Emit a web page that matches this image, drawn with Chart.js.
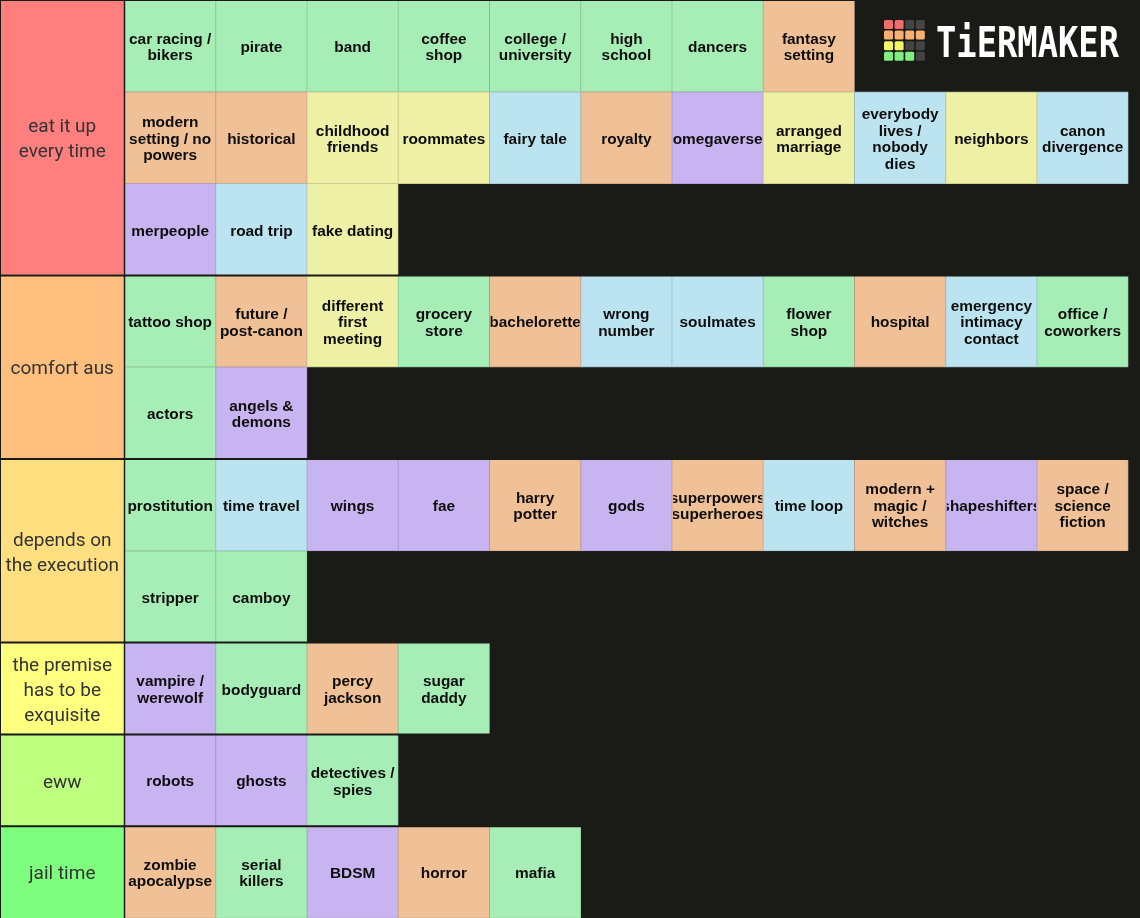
<!DOCTYPE html>
<html>
<head>
<meta charset="utf-8">
<script src="https://cdn.jsdelivr.net/npm/chart.js@4.4.1/dist/chart.umd.min.js"></script>
<style>
html,body{margin:0;padding:0;background:#1a1a17;overflow:hidden}
#wrap{width:1140px;height:918px;position:relative}
</style>
</head>
<body>
<div id="wrap"><canvas id="c"></canvas></div>
<script>
// ---- data ----
const tierNames = ["eat it up\nevery time", "comfort aus", "depends on\nthe execution", "the premise\nhas to be\nexquisite", "eww", "jail time"];
const tierColors = ["#ff7f7f", "#ffbf7f", "#ffdf7f", "#ffff7f", "#bfff7f", "#7fff7f"];

const tier1Items = ["car racing /\nbikers", "pirate", "band", "coffee\nshop", "college /\nuniversity", "high\nschool", "dancers", "fantasy\nsetting",
  "modern\nsetting / no\npowers", "historical", "childhood\nfriends", "roommates", "fairy tale", "royalty", "omegaverse", "arranged\nmarriage", "everybody\nlives /\nnobody\ndies", "neighbors", "canon\ndivergence",
  "merpeople", "road trip", "fake dating"];
const tier1Kinds = ["g","g","g","g","g","g","g","o",
  "o","o","y","y","b","o","p","y","b","y","b",
  "p","b","y"];

const tier2Items = ["tattoo shop", "future /\npost-canon", "different\nfirst\nmeeting", "grocery\nstore", "bachelorette", "wrong\nnumber", "soulmates", "flower\nshop", "hospital", "emergency\nintimacy\ncontact", "office /\ncoworkers",
  "actors", "angels &\ndemons"];
const tier2Kinds = ["g","o","y","g","o","b","b","g","o","b","g",
  "g","p"];

const tier3Items = ["prostitution", "time travel", "wings", "fae", "harry\npotter", "gods", "superpowers\nsuperheroes", "time loop", "modern +\nmagic /\nwitches", "shapeshifters", "space /\nscience\nfiction",
  "stripper", "camboy"];
const tier3Kinds = ["g","b","p","p","o","p","o","b","o","p","o",
  "g","g"];

const tier4Items = ["vampire /\nwerewolf", "bodyguard", "percy\njackson", "sugar\ndaddy"];
const tier4Kinds = ["p","g","o","g"];

const tier5Items = ["robots", "ghosts", "detectives /\nspies"];
const tier5Kinds = ["p","p","g"];

const tier6Items = ["zombie\napocalypse", "serial\nkillers", "BDSM", "horror", "mafia"];
const tier6Kinds = ["o","g","p","o","g"];

const kindFill = { g: "#a6eeb5", o: "#f0c097", y: "#eef0a5", b: "#bce4f0", p: "#c8b4f0" };
const kindEdge = { g: "#8cc499", o: "#c7a080", y: "#c6c78a", b: "#9dbfc9", p: "#a696c8" };

// ---- layout constants ----
const ROW_CAP = 11;          // cells per row
const FIRST_ROW_CAP = 8;     // first row leaves room for the logo
const CELL_PX = 91.25;
const LABEL_W = 124.5 / CELL_PX;                 // label column width in cell units
const X_MAX = (1140 - 124.5) / CELL_PX;

const tierItems = [tier1Items, tier2Items, tier3Items, tier4Items, tier5Items, tier6Items];
const tierKinds = [tier1Kinds, tier2Kinds, tier3Kinds, tier4Kinds, tier5Kinds, tier6Kinds];

// ---- build datasets ----
const rowKeys = [];
const tierRange = [];
const labelData = [], labelColors = [];
const cellData = [], cellColors = [], cellEdges = [], cellText = [];

tierItems.forEach((items, ti) => {
  const start = rowKeys.length;
  let idx = 0, r = 0;
  do {
    const cap = (ti === 0 && r === 0) ? FIRST_ROW_CAP : ROW_CAP;
    const key = "r" + rowKeys.length;
    rowKeys.push(key);
    labelData.push({ x: [-LABEL_W, 0], y: key });
    labelColors.push(tierColors[ti]);
    for (let c = 0; c < cap && idx < items.length; c++, idx++) {
      cellData.push({ x: [c, c + 1], y: key });
      const k = tierKinds[ti][idx];
      cellColors.push(kindFill[k]);
      cellEdges.push(kindEdge[k]);
      cellText.push(items[idx]);
    }
    r++;
  } while (idx < items.length);
  tierRange.push([start, rowKeys.length - 1]);
});

const BG = "#1a1a17";

const tierPlugin = {
  id: "tierText",
  afterDatasetsDraw(chart) {
    const ctx = chart.ctx;
    const xs = chart.scales.x, ys = chart.scales.y;
    const ca = chart.chartArea;
    const rowH = ys.getPixelForValue(1) - ys.getPixelForValue(0);

    // cell texts
    const meta = chart.getDatasetMeta(1);
    ctx.save();
    ctx.font = 'bold 15.4px "Liberation Sans", Arial, sans-serif';
    ctx.fillStyle = "#0d0d0d";
    ctx.textAlign = "center";
    ctx.textBaseline = "middle";
    meta.data.forEach((el, i) => {
      const p = el.getProps(["x", "y", "base", "height"], true);
      const left = Math.min(p.x, p.base), right = Math.max(p.x, p.base);
      ctx.save();
      ctx.beginPath();
      ctx.rect(left + 1, p.y - p.height / 2, right - left - 2, p.height);
      ctx.clip();
      const lines = cellText[i].split("\n");
      const lh = 16.5;
      const y0 = p.y + 1.8 - (lines.length - 1) * lh / 2;
      lines.forEach((ln, k) => ctx.fillText(ln, (left + right) / 2, y0 + k * lh));
      ctx.restore();
    });
    ctx.restore();

    // tier separators
    ctx.save();
    ctx.strokeStyle = BG;
    tierRange.forEach(([a, b], ti) => {
      if (ti < tierRange.length - 1) {
        const yb = ys.getPixelForValue(b) + rowH / 2;
        ctx.lineWidth = 2;
        ctx.beginPath(); ctx.moveTo(ca.left, yb); ctx.lineTo(ca.right, yb); ctx.stroke();
      }
    });
    ctx.lineWidth = 1;
    ctx.beginPath(); ctx.moveTo(ca.left, ca.top + 0.5); ctx.lineTo(ca.right, ca.top + 0.5); ctx.stroke();
    ctx.beginPath(); ctx.moveTo(ca.left + 0.5, ca.top); ctx.lineTo(ca.left + 0.5, ca.bottom); ctx.stroke();
    const xl = xs.getPixelForValue(0);
    ctx.lineWidth = 1.5;
    ctx.beginPath(); ctx.moveTo(xl, ca.top); ctx.lineTo(xl, ca.bottom); ctx.stroke();
    ctx.restore();

    // tier labels
    ctx.save();
    ctx.font = '19px Roboto, "Noto Sans", sans-serif';
    ctx.fillStyle = "#333";
    ctx.textAlign = "center";
    ctx.textBaseline = "middle";
    const xc = (xs.getPixelForValue(-LABEL_W) + xs.getPixelForValue(0)) / 2;
    tierRange.forEach(([a, b], ti) => {
      const yc = (ys.getPixelForValue(a) + ys.getPixelForValue(b)) / 2 + 2.5;
      const lines = tierNames[ti].split("\n");
      const lh = 25;
      const y0 = yc - (lines.length - 1) * lh / 2;
      lines.forEach((ln, k) => ctx.fillText(ln, xc, y0 + k * lh));
    });
    ctx.restore();

    // logo
    ctx.save();
    const lx = ca.right - 256, ly = ca.top + 20;
    const logoGrid = [
      ["#f26b6b", "#f26b6b", "#444", "#444"],
      ["#f9b06e", "#f9b06e", "#f9b06e", "#f9b06e"],
      ["#f5f56a", "#f5f56a", "#444", "#444"],
      ["#7ef07e", "#7ef07e", "#7ef07e", "#444"]
    ];
    logoGrid.forEach((row, r) => row.forEach((col, c) => {
      ctx.fillStyle = col;
      ctx.beginPath();
      if (ctx.roundRect) ctx.roundRect(lx + c * 10.6, ly + r * 10.6, 9, 9, 1.5);
      else ctx.rect(lx + c * 10.6, ly + r * 10.6, 9, 9);
      ctx.fill();
    }));
    ctx.font = 'bold 42px "DejaVu Sans Mono", monospace';
    ctx.textBaseline = "alphabetic";
    ctx.textAlign = "left";
    ctx.fillStyle = "#ffffff";
    const txt = "TiERMAKER";
    const w = ctx.measureText(txt).width;
    const tx = ca.right - 21 - 183;
    ctx.translate(tx, ly + 37);
    ctx.scale(183 / w, 1);
    ctx.fillText(txt, 0, 0);
    ctx.restore();
  }
};

new Chart(document.getElementById("c"), {
  type: "bar",
  data: {
    datasets: [
      {
        label: "tiers",
        data: labelData,
        backgroundColor: labelColors,
        borderWidth: 0,
        barPercentage: 1.02,
        categoryPercentage: 1,
        grouped: false
      },
      {
        label: "cells",
        data: cellData,
        backgroundColor: cellColors,
        borderColor: cellEdges,
        borderWidth: 0.7,
        borderSkipped: false,
        barPercentage: 1,
        categoryPercentage: 1,
        grouped: false
      }
    ]
  },
  options: {
    indexAxis: "y",
    responsive: true,
    maintainAspectRatio: false,
    animation: false,
    layout: { padding: 0 },
    scales: {
      x: { type: "linear", min: -LABEL_W, max: X_MAX, display: false },
      y: { type: "category", labels: rowKeys, display: false, offset: true }
    },
    plugins: { legend: { display: false }, tooltip: { enabled: false } }
  },
  plugins: [tierPlugin]
});
</script>
</body>
</html>
